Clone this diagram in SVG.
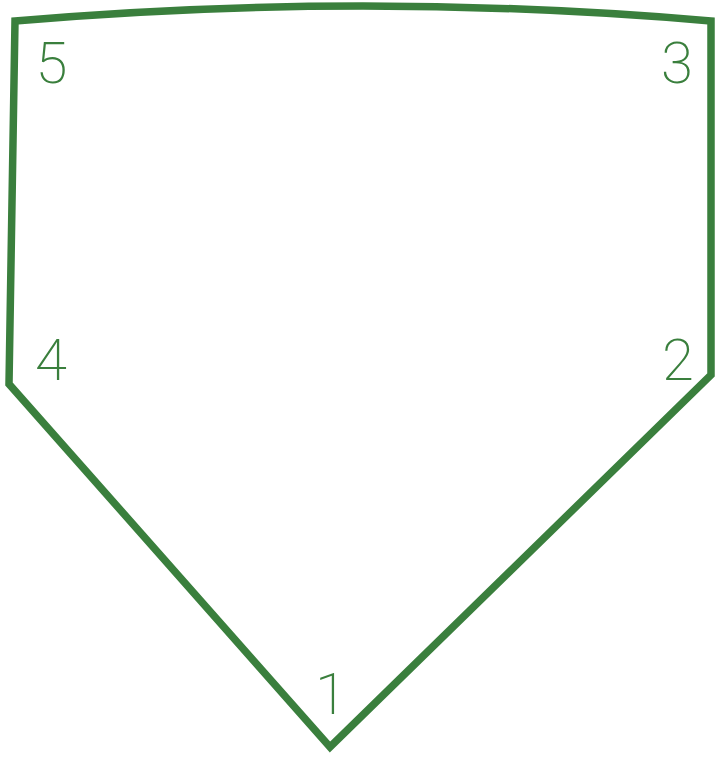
<svg xmlns="http://www.w3.org/2000/svg" width="716" height="761" viewBox="0 0 716 761">
<style>
.plate{fill:none;stroke:#3a7f3d;stroke-width:7.5;stroke-linejoin:miter}
.lbl{font-family:Roboto,"Liberation Sans",sans-serif;font-weight:200;font-size:58px;fill:#3a7f3d;text-anchor:middle}
</style>
<rect width="716" height="761" fill="#ffffff"/>
<g id="connectors">
<path class="plate" d="M15,21 Q363,-9 711,21 L711,375 L330,747 L9,384 Z"/>
</g>
<g id="n5"><text class="lbl" x="51.5" y="83">5</text></g>
<g id="n3"><text class="lbl" x="677" y="83">3</text></g>
<g id="n4"><text class="lbl" x="51" y="380">4</text></g>
<g id="n2"><text class="lbl" x="678" y="380">2</text></g>
<g id="n1"><text class="lbl" x="331" y="714">1</text></g>
</svg>
